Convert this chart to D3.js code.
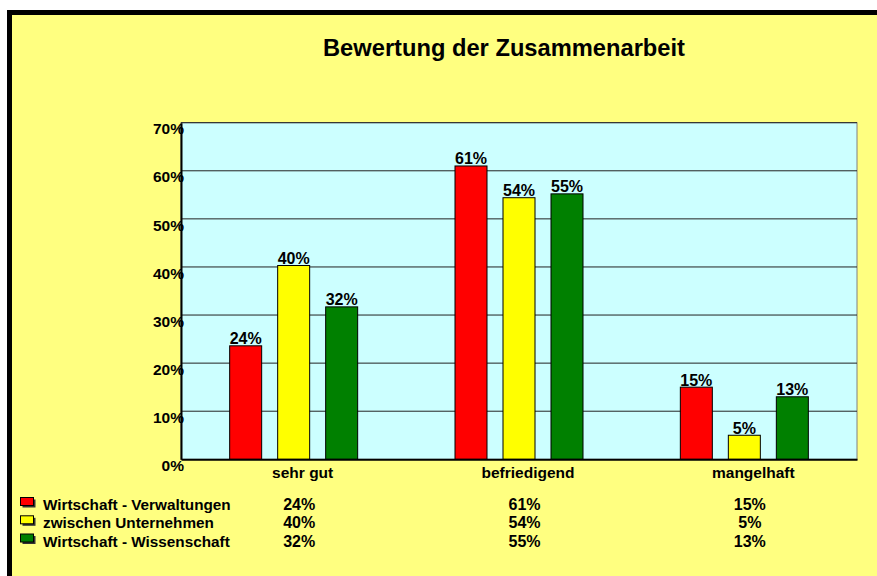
<!DOCTYPE html>
<html>
<head>
<meta charset="utf-8">
<script src="https://cdn.jsdelivr.net/npm/d3@7"></script>
<style>
  body { margin: 0; background: #fff; }
  svg { display: block; font-family: Arial, "Liberation Sans", sans-serif; font-weight: bold; }
</style>
</head>
<body>
<main></main>
<script>
// chart data
const categories = ["sehr gut", "befriedigend", "mangelhaft"];
const seriesNames = ["Wirtschaft - Verwaltungen", "zwischen Unternehmen", "Wirtschaft - Wissenschaft"];
const seriesColors = ["#ff0000", "#ffff00", "#008000"];
const verwaltungen = [23.6, 61, 15];
const unternehmen = [40.3, 54.4, 5];
const wissenschaft = [31.7, 55.2, 13];
const yTicks = [0, 10, 20, 30, 40, 50, 60, 70];

const seriesValues = [verwaltungen, unternehmen, wissenschaft];
const pct = v => d3.format(".0f")(v) + "%";

var width = 877;
var height = 576;

var svg = d3.select("main")
    .append("svg")
    .attr("width", width)
    .attr("height", height);

//frame + background
svg.append("rect")
    .attr("x", 9.5)
    .attr("y", 12.5)
    .attr("width", width)
    .attr("height", height)
    .attr("fill", "#ffff80")
    .attr("stroke", "#000")
    .attr("stroke-width", 5);

//create the title
svg.append("text")
    .text("Bewertung der Zusammenarbeit")
    .attr("x", 504)
    .attr("y", 56)
    .attr("text-anchor", "middle")
    .style("font-size", "23.7px");

const plot = { left: 181, right: 857, top: 122.7, bottom: 459.3 };

const x0 = d3.scaleBand()
    .domain(categories)
    .range([plot.left, plot.right]);

const x1 = d3.scaleBand()
    .domain(d3.range(seriesNames.length))
    .range([-64, 64])
    .paddingInner(1 / 3);

const yScale = d3.scaleLinear()
    .domain([0, 70])
    .range([plot.bottom, plot.top]);

//plot area
svg.append("rect")
    .attr("x", plot.left)
    .attr("y", plot.top)
    .attr("width", plot.right - plot.left)
    .attr("height", plot.bottom - plot.top)
    .attr("fill", "#ccffff")
    .attr("stroke", "#808080")
    .attr("stroke-width", 1);

//gridlines
svg.selectAll(".grid")
    .data(yTicks.slice(1))
    .enter()
    .append("line")
    .attr("class", "grid")
    .attr("x1", plot.left)
    .attr("x2", plot.right)
    .attr("y1", d => yScale(d))
    .attr("y2", d => yScale(d))
    .attr("stroke", "#222")
    .attr("stroke-width", 1);

//bars
seriesValues.forEach((vals, s) => {
    svg.selectAll(".bar" + s)
        .data(vals)
        .enter()
        .append("rect")
        .attr("class", "bar" + s)
        .attr("x", (d, i) => x0(categories[i]) + x0.bandwidth() / 2 + x1(s))
        .attr("y", d => yScale(d))
        .attr("width", x1.bandwidth())
        .attr("height", d => plot.bottom - yScale(d))
        .attr("fill", seriesColors[s])
        .attr("stroke", "#000")
        .attr("stroke-width", 1);

    svg.selectAll(".lbl" + s)
        .data(vals)
        .enter()
        .append("text")
        .attr("class", "lbl" + s)
        .attr("x", (d, i) => x0(categories[i]) + x0.bandwidth() / 2 + x1(s) + x1.bandwidth() / 2)
        .attr("y", d => yScale(d) - 1.5)
        .attr("text-anchor", "middle")
        .style("font-size", "16px")
        .text(d => pct(d));
});

//axes
var y_axis = d3.axisLeft(yScale)
    .tickValues(yTicks)
    .tickSize(0)
    .tickPadding(-3)
    .tickFormat(d => d + "%");

svg.append("g")
    .attr("id", "y-axis")
    .attr("transform", "translate(" + plot.left + ",0)")
    .call(y_axis)
    .call(g => g.select(".domain").attr("stroke", "#000").attr("stroke-width", 2))
    .selectAll("text")
    .attr("dy", "0.72em")
    .attr("fill", "#000")
    .style("font-size", "15.5px")
    .style("font-family", "Arial, 'Liberation Sans', sans-serif");

var x_axis = d3.axisBottom(x0)
    .tickSize(0)
    .tickPadding(8);

svg.append("g")
    .attr("id", "x-axis")
    .attr("transform", "translate(0," + plot.bottom + ")")
    .call(x_axis)
    .call(g => g.select(".domain").attr("stroke", "#000").attr("stroke-width", 2))
    .selectAll("text")
    .attr("dx", 9)
    .attr("fill", "#000")
    .style("font-size", "15.5px")
    .style("font-family", "Arial, 'Liberation Sans', sans-serif");

//data table legend
const rowY = [510, 528.3, 546.5];

seriesNames.forEach((name, s) => {
    svg.append("rect")
        .attr("x", 22.5)
        .attr("y", rowY[s] - 10.5)
        .attr("width", 13)
        .attr("height", 8)
        .attr("fill", "#333");
    svg.append("rect")
        .attr("x", 20.5)
        .attr("y", rowY[s] - 12.5)
        .attr("width", 13)
        .attr("height", 8)
        .attr("fill", seriesColors[s])
        .attr("stroke", "#000")
        .attr("stroke-width", 1);

    svg.append("text")
        .text(name)
        .attr("x", 43)
        .attr("y", rowY[s])
        .style("font-size", "15.3px");

    svg.selectAll(".tbl" + s)
        .data(seriesValues[s])
        .enter()
        .append("text")
        .attr("class", "tbl" + s)
        .attr("x", (d, i) => x0(categories[i]) + x0.bandwidth() / 2 + 5.5)
        .attr("y", rowY[s])
        .attr("text-anchor", "middle")
        .style("font-size", "16px")
        .text(d => pct(d));
});
</script>
</body>
</html>
